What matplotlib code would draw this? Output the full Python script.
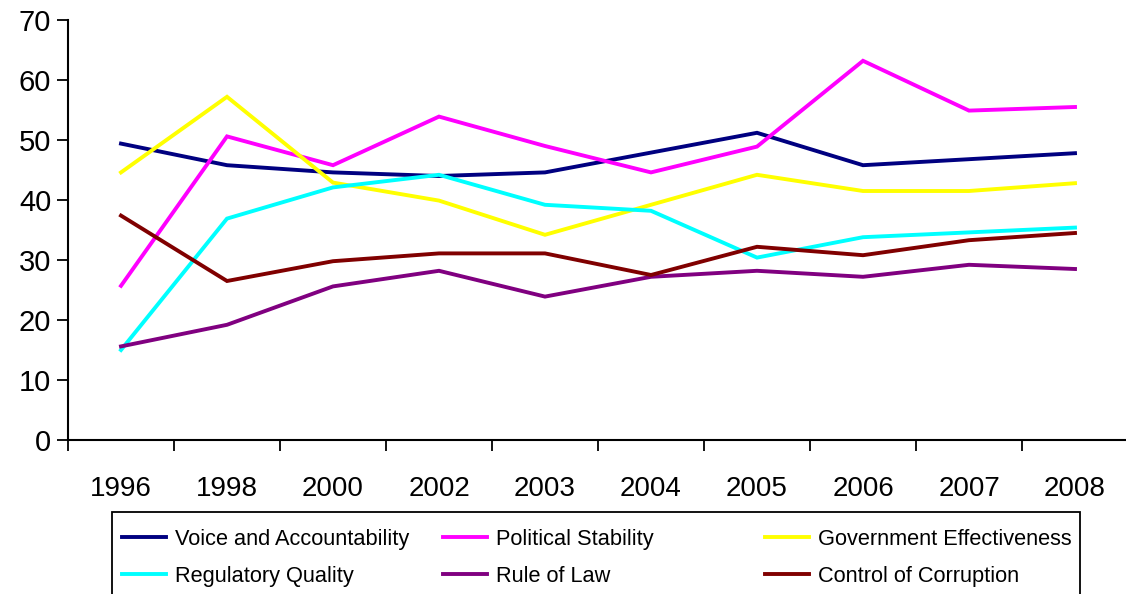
import matplotlib
matplotlib.use("Agg")
import matplotlib.pyplot as plt
from matplotlib.patches import Rectangle
import numpy as np

plt.rcParams["font.family"] = ["Liberation Sans", "DejaVu Sans"]

# Data
years = ["1996", "1998", "2000", "2002", "2003", "2004", "2005", "2006", "2007", "2008"]
voice = [49.4, 45.8, 44.6, 44.0, 44.6, 47.9, 51.2, 45.8, 46.8, 47.8]
political = [25.7, 50.6, 45.8, 53.9, 49.0, 44.6, 48.9, 63.2, 54.9, 55.5]
government = [44.6, 57.2, 42.9, 39.9, 34.2, 39.2, 44.2, 41.5, 41.5, 42.8]
regulatory = [15.0, 36.9, 42.1, 44.2, 39.2, 38.2, 30.4, 33.8, 34.6, 35.4]
rule_of_law = [15.6, 19.2, 25.6, 28.2, 23.9, 27.2, 28.2, 27.2, 29.2, 28.5]
corruption = [37.4, 26.5, 29.8, 31.1, 31.1, 27.5, 32.2, 30.8, 33.3, 34.5]

series = [
    ("Voice and Accountability", voice, "#000080"),
    ("Political Stability", political, "#FF00FF"),
    ("Government Effectiveness", government, "#FFFF00"),
    ("Regulatory Quality", regulatory, "#00FFFF"),
    ("Rule of Law", rule_of_law, "#800080"),
    ("Control of Corruption", corruption, "#800000"),
]

W, H = 1126, 594
fig = plt.figure(figsize=(W / 100, H / 100), dpi=100)
ax = fig.add_axes([68 / W, 1 - 440 / H, 1060 / W, 420 / H])

x = np.arange(len(years))
lines = []
for label, vals, color in series:
    ln, = ax.plot(x, vals, color=color, lw=2.8, label=label, solid_joinstyle="miter")
    lines.append(ln)

ax.set_xlim(-0.5, len(years) - 0.5)
ax.set_ylim(0, 70)
ax.set_yticks(range(0, 71, 10))
ax.set_xticks(x)
ax.set_xticklabels(years)
ax.set_xticks(np.arange(-0.5, len(years), 1.0), minor=True)
ax.tick_params(axis="x", which="major", length=0, pad=26, labelsize=20)
ax.tick_params(axis="x", which="minor", length=8, width=1.3, direction="out")
ax.tick_params(axis="y", length=8, width=1.3, direction="out", labelsize=21, pad=4)

for side in ["top", "right"]:
    ax.spines[side].set_visible(False)
for side in ["left", "bottom"]:
    ax.spines[side].set_linewidth(1.5)

# legend box (Excel style: equal-width columns, runs off the bottom edge)
fig.patches.append(Rectangle((112 / W, -0.05), 968 / W, 1 - 512 / H + 0.05,
                             transform=fig.transFigure, fill=False,
                             edgecolor="black", linewidth=1.3))

# one single-column legend per column so the columns sit at fixed slots
col_x = [122, 443, 765]
for c in range(3):
    idx = [c, c + 3]
    fig.legend(
        [lines[i] for i in idx],
        [series[i][0] for i in idx],
        loc="upper left",
        bbox_to_anchor=(col_x[c] / W, 1 - 529 / H),
        ncol=1,
        fontsize=15.7,
        frameon=False,
        handlelength=2.0,
        handletextpad=0.45,
        labelspacing=0.72,
        borderpad=0,
        borderaxespad=0,
    )

fig.savefig("out.png", dpi=100)
